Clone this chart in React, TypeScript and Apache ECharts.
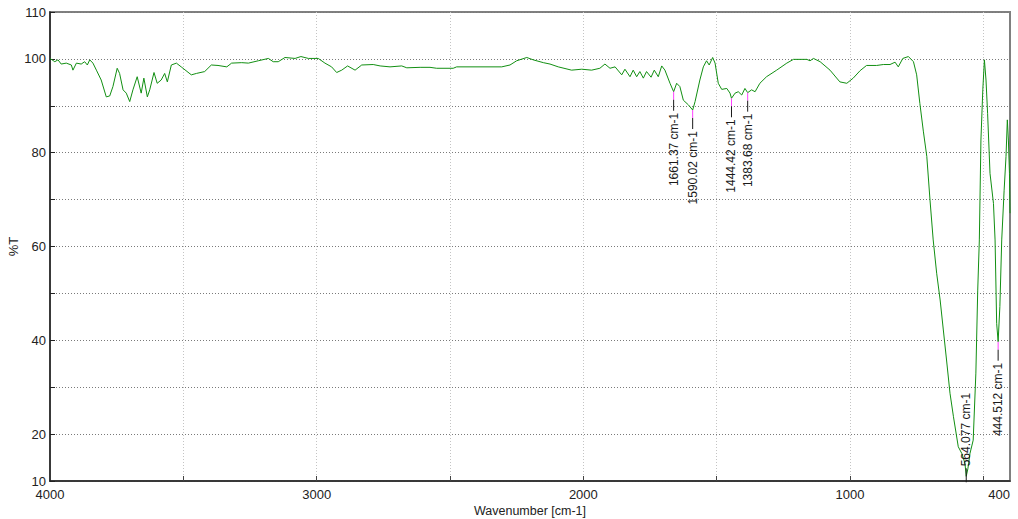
import React, { useEffect, useRef } from "react";
import * as echarts from "echarts";

// IR spectrum: wavenumber (cm-1) and transmittance (%T)
const wavenumbers = [
  4000, 3982, 3970, 3958, 3939, 3920, 3914, 3901, 3883, 3870, 3860, 3851, 3839, 3826, 3808,
  3789, 3776, 3764, 3748, 3739, 3726, 3714, 3701, 3689, 3673, 3658, 3648, 3635, 3626, 3610,
  3598, 3583, 3570, 3560, 3545, 3526, 3508, 3470, 3451, 3420, 3395, 3370, 3337, 3319, 3281,
  3256, 3219, 3181, 3163, 3144, 3119, 3081, 3059, 3031, 2994, 2969, 2944, 2925, 2906, 2884,
  2856, 2831, 2788, 2762, 2725, 2681, 2662, 2612, 2575, 2550, 2488, 2475, 2306, 2275, 2250,
  2212, 2188, 2150, 2125, 2094, 2044, 2006, 1969, 1938, 1919, 1900, 1881, 1856, 1844, 1825,
  1813, 1800, 1788, 1775, 1763, 1746, 1734, 1719, 1706, 1694, 1675, 1661.37, 1650, 1638, 1625,
  1606, 1590.02, 1581, 1563, 1550, 1538, 1528, 1515, 1506, 1494, 1481, 1462, 1450, 1444.42, 1431,
  1419, 1406, 1394, 1383.68, 1369, 1356, 1338, 1313, 1275, 1237, 1212, 1162, 1150, 1137, 1112,
  1075, 1038, 1012, 988, 962, 938, 900, 875, 850, 831, 819, 802, 781, 762, 750,
  738, 725, 712, 700, 688, 675, 662, 650, 638, 625, 612, 594, 581, 569, 564.077,
  558, 550, 538, 528, 521, 515, 509, 502, 496, 490, 484, 475, 462, 456, 450,
  444.512, 438, 431, 422, 415, 410, 406, 402, 400,
];

const transmittance = [
  100.1, 99.4, 99.8, 98.9, 99.1, 98.7, 97.6, 99.1, 98.9, 99.4, 98.7, 99.8, 99.1, 97.6, 95.5,
  91.9, 92.1, 94.1, 98.0, 96.9, 93.4, 92.7, 90.9, 93.4, 96.2, 92.7, 95.9, 91.9, 93.4, 97.1,
  94.8, 95.5, 96.9, 95.1, 98.7, 99.1, 98.3, 96.6, 96.9, 97.3, 98.7, 98.6, 98.3, 99.1, 99.2,
  99.1, 99.6, 100.1, 99.4, 99.4, 100.3, 100.1, 100.5, 100.1, 100.1, 99.1, 98.3, 97.1, 97.6, 98.5,
  97.6, 98.7, 98.8, 98.5, 98.3, 98.5, 98.1, 98.2, 98.2, 98.0, 98.0, 98.3, 98.3, 98.7, 99.6,
  100.3, 99.8, 99.2, 98.9, 98.3, 97.6, 97.8, 97.6, 98.0, 98.9, 98.0, 98.3, 96.6, 97.8, 96.2,
  97.6, 96.2, 97.3, 95.9, 97.3, 96.1, 97.6, 96.2, 98.5, 97.6, 94.8, 93.0, 94.8, 94.1, 91.2,
  90.2, 89.1, 90.9, 95.5, 98.3, 99.6, 98.7, 100.3, 99.1, 94.8, 93.5, 93.7, 92.7, 91.6, 92.7,
  93.0, 92.3, 93.7, 92.8, 93.4, 93.0, 94.8, 96.2, 97.6, 99.1, 99.9, 99.9, 99.6, 100.1, 99.4,
  97.6, 95.1, 94.8, 95.9, 97.5, 98.6, 98.6, 98.8, 98.8, 99.3, 98.3, 100.1, 100.5, 99.4, 96.6,
  90.5, 84.6, 79.2, 69.9, 61.4, 54.3, 48.6, 42.2, 35.8, 28.7, 23.7, 17.3, 15.9, 13.8, 11.0,
  12.6, 15.9, 18.7, 33.0, 50.7, 61.4, 82.7, 93.4, 99.8, 95.5, 88.4, 75.6, 69.2, 61.4, 43.6,
  39.7, 47.2, 61.4, 72.0, 79.2, 87.0, 82.7, 75.6, 67.1,
];

// Annotated peaks: position, %T and which side of the peak the label sits on (1 below, -1 above)
const peakWavenumbers = [1661.37, 1590.02, 1444.42, 1383.68, 564.077, 444.512];
const peakTransmittance = [93.0, 89.1, 91.6, 92.8, 11.0, 39.7];
const peakLabelSide = [1, 1, 1, 1, -1, 1];

const xLabelValues = [4000, 3000, 2000, 1000, 400];
const xGridValues = [3500, 3000, 2500, 2000, 1500, 1000, 500];
const yLabelValues = [10, 20, 40, 60, 80, 100, 110];

const FONT = "'Liberation Sans Narrow', 'Liberation Sans', Arial, sans-serif";

export default function App() {
  const ref = useRef<HTMLDivElement>(null);

  useEffect(() => {
    if (!ref.current) return;
    const chart = echarts.init(ref.current, undefined, { renderer: "svg" });

    const spectrum = wavenumbers.map((w, i) => [w, transmittance[i]]);
    const peaks = peakWavenumbers.map((w, i) => [w, peakTransmittance[i], peakLabelSide[i]]);

    chart.setOption({
      animation: false,
      backgroundColor: "#ffffff",
      grid: {
        left: 50,
        right: 8,
        top: 12,
        bottom: 38,
        containLabel: false,
        outerBoundsMode: "none",
        show: true,
        borderColor: "#808080",
        borderWidth: 2,
      },
      xAxis: {
        type: "value",
        min: 400,
        max: 4000,
        inverse: true,
        name: "Wavenumber [cm-1]",
        nameLocation: "middle",
        nameGap: 23,
        nameMoveOverlap: false,
        nameTextStyle: { fontFamily: FONT, fontSize: 12.5, color: "#222" },
        axisLine: { show: true, onZero: false, lineStyle: { color: "#222", width: 1.5 } },
        axisTick: {
          show: true,
          inside: true,
          length: 5,
          customValues: xGridValues,
          lineStyle: { color: "#444" },
        },
        axisLabel: {
          customValues: xLabelValues,
          fontFamily: FONT,
          fontSize: 13,
          color: "#222",
          margin: 7,
          alignMaxLabel: "right",
          formatter: (v: number) => String(v),
        },
        splitLine: { show: true, lineStyle: { color: "#c4c4c4", type: [1, 2], width: 1 } },
      },
      yAxis: {
        type: "value",
        min: 10,
        max: 110,
        interval: 10,
        name: "%T",
        nameLocation: "middle",
        nameRotate: 90,
        nameGap: 30,
        nameMoveOverlap: false,
        nameTextStyle: { fontFamily: FONT, fontSize: 13, color: "#222" },
        axisLine: { show: true, onZero: false, lineStyle: { color: "#222", width: 1.5 } },
        axisTick: { show: true, inside: true, length: 5, lineStyle: { color: "#222" } },
        axisLabel: {
          fontFamily: FONT,
          fontSize: 13,
          color: "#222",
          margin: 4,
          formatter: (v: number) => (yLabelValues.includes(v) ? String(v) : ""),
        },
        splitLine: { show: true, lineStyle: { color: "#7a7a7a", type: [1, 2], width: 1 } },
      },
      series: [
        {
          type: "line",
          data: spectrum,
          showSymbol: false,
          symbol: "none",
          lineStyle: { color: "#128f12", width: 1 },
          z: 3,
        },
        {
          type: "custom",
          data: peaks,
          encode: { x: 0, y: 1 },
          clip: false,
          z: 4,
          renderItem: (params: any, api: any) => {
            const wn = api.value(0);
            const t = api.value(1);
            const side = api.value(2);
            const [px, py] = api.coord([wn, t]);
            const text = `${peakWavenumbers[params.dataIndex]} cm-1`;
            const textStyle = {
              text,
              fontFamily: FONT,
              fontSize: 12,
              fill: "#1a1a1a",
              verticalAlign: "middle",
            };
            if (side > 0) {
              return {
                type: "group",
                children: [
                  { type: "line", shape: { x1: px, y1: py, x2: px, y2: py + 8 }, style: { stroke: "#ff40ff", lineWidth: 1 } },
                  { type: "line", shape: { x1: px, y1: py + 8, x2: px, y2: py + 19 }, style: { stroke: "#1a1a1a", lineWidth: 1 } },
                  { type: "text", x: px, y: py + 21, rotation: Math.PI / 2, style: { ...textStyle, align: "right" } },
                ],
              };
            }
            return {
              type: "group",
              children: [
                { type: "line", shape: { x1: px, y1: py + 6, x2: px, y2: py - 8 }, style: { stroke: "#1a1a1a", lineWidth: 1 } },
                { type: "text", x: px, y: py - 10, rotation: Math.PI / 2, style: { ...textStyle, align: "left" } },
              ],
            };
          },
        },
      ],
    });

    return () => chart.dispose();
  }, []);

  return (
    <div
      ref={ref}
      style={{ position: "fixed", left: 0, top: 0, width: 1018, height: 519, background: "#fff" }}
    />
  );
}
